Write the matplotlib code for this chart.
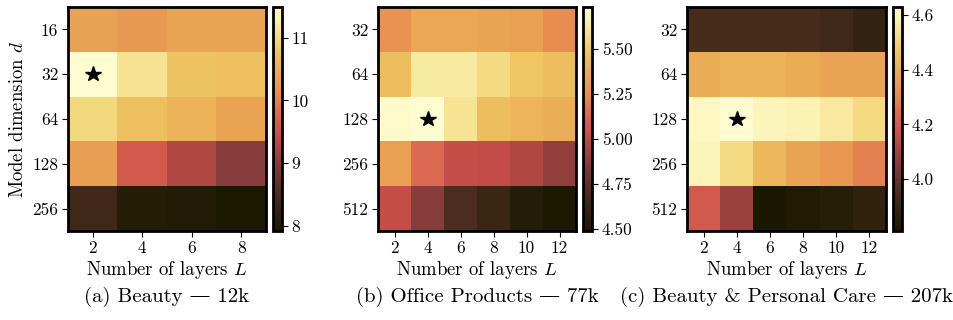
import numpy as np
import matplotlib
matplotlib.use("Agg")
import matplotlib.pyplot as plt
from matplotlib.colors import LinearSegmentedColormap

plt.rcParams['font.family'] = ['cmr10', 'DejaVu Serif']
plt.rcParams['mathtext.fontset'] = 'cm'
plt.rcParams['axes.formatter.use_mathtext'] = True

# ---------------- data ----------------
layers_a = [2, 4, 6, 8]
dims_a = ["16", "32", "64", "128", "256"]
vals_a = [
    [10.36, 10.26, 10.40, 10.40],
    [11.49, 11.10, 10.75, 10.70],
    [11.00, 10.70, 10.55, 10.38],
    [10.32, 9.62, 9.28, 9.02],
    [8.40, 8.08, 8.03, 7.95],
]
ticks_a = [8, 9, 10, 11]
ticklabels_a = ["8", "9", "10", "11"]
range_a = (7.92, 11.49)

layers_b = [2, 4, 6, 8, 10, 12]
dims_b = ["32", "64", "128", "256", "512"]
vals_b = [
    [5.27, 5.36, 5.36, 5.34, 5.33, 5.25],
    [5.45, 5.63, 5.63, 5.57, 5.48, 5.45],
    [5.72, 5.73, 5.60, 5.45, 5.42, 5.39],
    [5.33, 5.14, 5.02, 5.01, 4.96, 4.89],
    [5.02, 4.87, 4.70, 4.64, 4.54, 4.50],
]
ticks_b = [4.50, 4.75, 5.00, 5.25, 5.50]
ticklabels_b = ["4.50", "4.75", "5.00", "5.25", "5.50"]
range_b = (4.49, 5.73)

layers_c = [2, 4, 6, 8, 10, 12]
dims_c = ["32", "64", "128", "256", "512"]
vals_c = [
    [3.94, 3.94, 3.94, 3.94, 3.92, 3.89],
    [4.40, 4.42, 4.42, 4.40, 4.38, 4.38],
    [4.61, 4.63, 4.60, 4.59, 4.56, 4.52],
    [4.60, 4.52, 4.43, 4.38, 4.34, 4.29],
    [4.20, 4.09, 3.81, 3.83, 3.85, 3.88],
]
ticks_c = [4.0, 4.2, 4.4, 4.6]
ticklabels_c = ["4.0", "4.2", "4.4", "4.6"]
range_c = (3.81, 4.63)

captions = [r"(a) Beauty — 12k", r"(b) Office Products — 77k",
            r"(c) Beauty & Personal Care — 207k"]

# ---------------- colormap ----------------
stops = [
    (0.00, "#1a1800"),
    (0.15, "#442a1a"),
    (0.30, "#843c3a"),
    (0.42, "#c44c48"),
    (0.50, "#d86050"),
    (0.62, "#e89050"),
    (0.72, "#eaac55"),
    (0.82, "#f0cc65"),
    (0.92, "#f8eaa0"),
    (1.00, "#fffdd0"),
]
cmap = LinearSegmentedColormap.from_list("heat", stops)

W, H = 954, 320
fig = plt.figure(figsize=(W / 100, H / 100), dpi=100)


def px_axes(x0, y0, x1, y1):
    return fig.add_axes([x0 / W, 1 - y1 / H, (x1 - x0) / W, (y1 - y0) / H])


panels = [
    (layers_a, dims_a, vals_a, ticks_a, ticklabels_a, range_a, (68, 266), (273, 282)),
    (layers_b, dims_b, vals_b, ticks_b, ticklabels_b, range_b, (378, 576), (583, 592)),
    (layers_c, dims_c, vals_c, ticks_c, ticklabels_c, range_c, (687, 886), (893, 902)),
]

for k, (layers, dims, vals, cticks, cticklabels, vr, hx, cx) in enumerate(panels):
    v = np.array(vals)
    L = np.array(layers, dtype=float)
    xe = np.r_[L - 1, L[-1] + 1]
    ye = np.arange(len(dims) + 1) - 0.5
    ax = px_axes(hx[0], 7, hx[1], 231)
    m = ax.pcolormesh(xe, ye, v, cmap=cmap, vmin=vr[0], vmax=vr[1])
    ax.set_xlim(xe[0], xe[-1])
    ax.set_ylim(ye[-1], ye[0])
    ax.set_xticks(L)
    ax.set_xticklabels([str(l) for l in layers])
    ax.set_yticks(np.arange(len(dims)))
    ax.set_yticklabels(dims)
    ax.tick_params(labelsize=12.5, length=4, width=0.8, pad=3)
    for s in ax.spines.values():
        s.set_linewidth(2.0)
    i, j = np.unravel_index(np.argmax(v), v.shape)
    ax.plot(L[j], i, marker="*", color="k", ms=11.5, mec="k")
    ax.set_xlabel(r"Number of layers $L$", fontsize=13.5, labelpad=2)
    if k == 0:
        ax.set_ylabel(r"Model dimension $d$", fontsize=13.5, labelpad=4)
    cax = px_axes(cx[0], 7, cx[1], 231)
    cb = fig.colorbar(m, cax=cax)
    cb.set_ticks(cticks)
    cb.set_ticklabels(cticklabels)
    cb.outline.set_linewidth(2.0)
    cax.tick_params(labelsize=12.5, length=4, width=0.8, pad=3)
    fig.text(((hx[0] + hx[1]) / 2) / W, 1 - 297 / H, captions[k],
             ha="center", va="center", fontsize=15)

fig.savefig("out.png", dpi=100)
